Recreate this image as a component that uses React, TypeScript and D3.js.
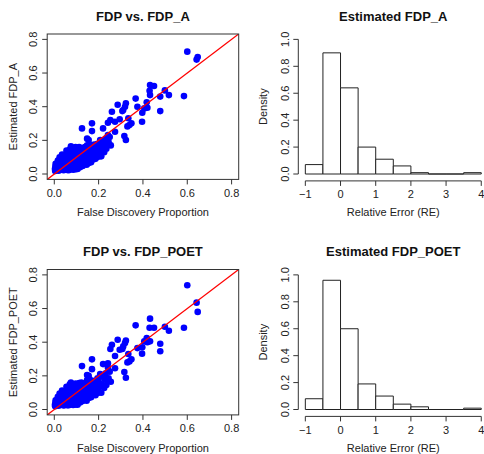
import React from "react";
import * as d3 from "d3";

// ---------- data ----------
const trueFDP = [
  0.600, 0.642, 0.647, 0.585, 0.517, 0.499, 0.478, 0.478, 0.432, 0.450,
  0.430, 0.432, 0.417, 0.420, 0.406, 0.397, 0.396, 0.367, 0.375, 0.348,
  0.339, 0.330, 0.334, 0.323, 0.319, 0.311, 0.286, 0.307, 0.295, 0.274,
  0.316, 0.323, 0.274, 0.125, 0.170, 0.170, 0.220, 0.242, 0.253, 0.260,
  0.242, 0.238, 0.207, 0.193, 0.155, 0.199, 0.191, 0.233, 0.176, 0.161,
  0.148,
  0.003, 0.005, 0.008, 0.010, 0.012, 0.015, 0.018, 0.020, 0.004, 0.014,
  0.022, 0.025, 0.027, 0.030, 0.032, 0.034, 0.036, 0.038, 0.040, 0.042,
  0.044, 0.046, 0.048, 0.050, 0.052, 0.054, 0.056, 0.058, 0.060, 0.062,
  0.064, 0.066, 0.068, 0.070, 0.072, 0.074, 0.076, 0.078, 0.080, 0.082,
  0.084, 0.086, 0.088, 0.090, 0.092, 0.094, 0.096, 0.098, 0.100, 0.102,
  0.104, 0.106, 0.108, 0.110, 0.112, 0.114, 0.116, 0.118, 0.120, 0.122,
  0.124, 0.126, 0.128, 0.130, 0.132, 0.134, 0.136, 0.138, 0.140, 0.142,
  0.144, 0.146, 0.148, 0.150, 0.152, 0.154, 0.156, 0.158, 0.160, 0.162,
  0.164, 0.166, 0.168, 0.170, 0.172, 0.175, 0.178, 0.180, 0.183, 0.186,
  0.188, 0.190, 0.195, 0.198, 0.202, 0.205, 0.210, 0.212, 0.215, 0.220,
  0.225, 0.228, 0.232, 0.235, 0.245, 0.250, 0.255, 0.006, 0.016, 0.024,
  0.028, 0.035, 0.045, 0.055, 0.065, 0.075, 0.085, 0.095, 0.105,
];

const estFDP_A = [
  0.727, 0.680, 0.695, 0.463, 0.469, 0.497, 0.460, 0.374, 0.529, 0.523,
  0.495, 0.469, 0.426, 0.394, 0.390, 0.364, 0.311, 0.448, 0.400, 0.301,
  0.291, 0.283, 0.331, 0.420, 0.400, 0.380, 0.412, 0.374, 0.325, 0.311,
  0.226, 0.202, 0.251, 0.271, 0.301, 0.255, 0.271, 0.305, 0.321, 0.370,
  0.232, 0.172, 0.202, 0.123, 0.202, 0.103, 0.127, 0.182, 0.153, 0.160,
  0.210,
  0.030, 0.045, 0.022, 0.038, 0.055, 0.028, 0.048, 0.020, 0.018, 0.065,
  0.035, 0.075, 0.050, 0.025, 0.090, 0.060, 0.040, 0.105, 0.072, 0.022,
  0.052, 0.085, 0.030, 0.115, 0.065, 0.045, 0.095, 0.024, 0.078, 0.125,
  0.055, 0.035, 0.100, 0.145, 0.070, 0.028, 0.088, 0.120, 0.050, 0.155,
  0.105, 0.075, 0.038, 0.135, 0.092, 0.060, 0.160, 0.115, 0.030, 0.082,
  0.145, 0.055, 0.125, 0.100, 0.160, 0.070, 0.040, 0.135, 0.090, 0.155,
  0.065, 0.110, 0.048, 0.140, 0.085, 0.120, 0.060, 0.160, 0.100, 0.075,
  0.130, 0.055, 0.170, 0.110, 0.088, 0.145, 0.065, 0.125, 0.175, 0.095,
  0.150, 0.070, 0.120, 0.160, 0.085, 0.140, 0.105, 0.175, 0.125, 0.090,
  0.160, 0.145, 0.180, 0.118, 0.165, 0.140, 0.190, 0.105, 0.155, 0.200,
  0.130, 0.175, 0.210, 0.150, 0.190, 0.220, 0.170, 0.060, 0.080, 0.100,
  0.030, 0.115, 0.025, 0.140, 0.022, 0.165, 0.025, 0.028, 0.030,
];

const estFDP_POET = [
  0.738, 0.635, 0.580, 0.486, 0.468, 0.492, 0.391, 0.346, 0.540, 0.486,
  0.486, 0.405, 0.425, 0.400, 0.405, 0.370, 0.332, 0.500, 0.365, 0.298,
  0.286, 0.280, 0.330, 0.410, 0.395, 0.375, 0.415, 0.360, 0.355, 0.318,
  0.223, 0.189, 0.245, 0.258, 0.298, 0.240, 0.270, 0.275, 0.360, 0.385,
  0.250, 0.180, 0.210, 0.130, 0.200, 0.100, 0.120, 0.185, 0.150, 0.165,
  0.205,
  0.028, 0.040, 0.025, 0.035, 0.050, 0.030, 0.045, 0.022, 0.020, 0.060,
  0.038, 0.070, 0.052, 0.028, 0.085, 0.058, 0.042, 0.100, 0.075, 0.024,
  0.050, 0.082, 0.032, 0.110, 0.068, 0.043, 0.098, 0.026, 0.075, 0.120,
  0.058, 0.033, 0.105, 0.150, 0.068, 0.030, 0.085, 0.125, 0.052, 0.150,
  0.100, 0.078, 0.035, 0.140, 0.090, 0.063, 0.155, 0.118, 0.032, 0.080,
  0.148, 0.052, 0.122, 0.105, 0.158, 0.072, 0.042, 0.130, 0.088, 0.160,
  0.068, 0.108, 0.050, 0.142, 0.082, 0.125, 0.058, 0.155, 0.098, 0.078,
  0.135, 0.052, 0.175, 0.112, 0.085, 0.140, 0.068, 0.128, 0.180, 0.092,
  0.148, 0.073, 0.118, 0.165, 0.088, 0.135, 0.108, 0.170, 0.128, 0.085,
  0.165, 0.140, 0.185, 0.120, 0.160, 0.145, 0.195, 0.100, 0.150, 0.205,
  0.128, 0.180, 0.215, 0.145, 0.185, 0.225, 0.165, 0.055, 0.075, 0.095,
  0.032, 0.112, 0.027, 0.135, 0.025, 0.160, 0.027, 0.030, 0.028,
];

const binEdges = [-1, -0.5, 0, 0.5, 1, 1.5, 2, 2.5, 3, 3.5, 4];
const densityA = [0.07, 0.90, 0.64, 0.20, 0.11, 0.06, 0.01, 0, 0, 0.01];
const densityPOET = [0.08, 0.96, 0.60, 0.19, 0.10, 0.04, 0.02, 0, 0, 0.01];

const scatterTicks = [0, 0.2, 0.4, 0.6, 0.8];
const histXTicks = [-1, 0, 1, 2, 3, 4];
const histYTicks = [0, 0.2, 0.4, 0.6, 0.8, 1.0];

const scatterTitles = ["FDP vs. FDP_A", "FDP vs. FDP_POET"];
const scatterYLabels = ["Estimated FDP_A", "Estimated FDP_POET"];
const histTitles = ["Estimated FDP_A", "Estimated FDP_POET"];
const scatterXLabel = "False Discovery Proportion";
const histXLabel = "Relative Error (RE)";
const histYLabel = "Density";

// ---------- layout ----------
const FONT = "'Liberation Sans', Arial, Helvetica, sans-serif";
const ROW_OFFSETS = [0, 235.5];
const TOP = 34;
const BOTTOM = 179.4;
const SC_L = 47.2, SC_R = 238.7;
const H_L = 298.3, H_R = 488.3;
const TICK = 5;

const fmt1 = (v: number) => v.toFixed(1);

function Scatter({ row }: { row: number }) {
  const oy = ROW_OFFSETS[row];
  const ys = row === 0 ? estFDP_A : estFDP_POET;
  const x = d3.scaleLinear().domain([-0.032, 0.832]).range([SC_L, SC_R]);
  const y = d3.scaleLinear().domain([-0.032, 0.832]).range([BOTTOM + oy, TOP + oy]);
  const clipId = `clip-sc-${row}`;
  const cx = (SC_L + SC_R) / 2;
  const cy = (TOP + BOTTOM) / 2 + oy;
  const line = d3.line<number>().x((d) => x(d)).y((d) => y(d));
  return (
    <g>
      <defs>
        <clipPath id={clipId}>
          <rect x={SC_L} y={TOP + oy} width={SC_R - SC_L} height={BOTTOM - TOP} />
        </clipPath>
      </defs>
      {trueFDP.map((v, i) => (
        <circle key={i} cx={x(v)} cy={y(ys[i])} r={3.3} fill="#0000ff" />
      ))}
      <path d={line([-0.032, 0.832]) || ""} stroke="#ff0000" strokeWidth={1.3} fill="none" clipPath={`url(#${clipId})`} />
      <rect x={SC_L} y={TOP + oy} width={SC_R - SC_L} height={BOTTOM - TOP} fill="none" stroke="#333" strokeWidth={1} />
      {scatterTicks.map((t) => (
        <g key={"x" + t}>
          <line x1={x(t)} x2={x(t)} y1={BOTTOM + oy} y2={BOTTOM + oy + TICK} stroke="#333" />
          <text x={x(t)} y={196.7 + oy} textAnchor="middle" fontSize={11} fontFamily={FONT} fill="#222">{fmt1(t)}</text>
        </g>
      ))}
      {scatterTicks.map((t) => (
        <g key={"y" + t}>
          <line x1={SC_L} x2={SC_L - TICK} y1={y(t)} y2={y(t)} stroke="#333" />
          <text transform={`translate(${37.3},${y(t)}) rotate(-90)`} textAnchor="middle" fontSize={11} fontFamily={FONT} fill="#222">{fmt1(t)}</text>
        </g>
      ))}
      <text x={cx} y={20.5 + oy} textAnchor="middle" fontSize={13} fontWeight="bold" fontFamily={FONT} fill="#111">{scatterTitles[row]}</text>
      <text x={cx} y={216 + oy} textAnchor="middle" fontSize={11} fontFamily={FONT} fill="#222">{scatterXLabel}</text>
      <text transform={`translate(${17.3},${cy}) rotate(-90)`} textAnchor="middle" fontSize={11} fontFamily={FONT} fill="#222">{scatterYLabels[row]}</text>
    </g>
  );
}

function Hist({ row }: { row: number }) {
  const oy = ROW_OFFSETS[row];
  const dens = row === 0 ? densityA : densityPOET;
  const x = d3.scaleLinear().domain([-1.2, 4.2]).range([H_L, H_R]);
  const y = d3.scaleLinear().domain([-0.04, 1.04]).range([BOTTOM + oy, TOP + oy]);
  const cy = (TOP + BOTTOM) / 2 + oy;
  const axisCx = (x(-1) + x(4)) / 2;
  return (
    <g>
      {dens.map((d, i) => {
        const x0 = x(binEdges[i]);
        const x1 = x(binEdges[i + 1]);
        const y0 = y(0);
        const y1 = y(d);
        const p = d3.path();
        p.moveTo(x0, y0);
        p.lineTo(x0, y1);
        p.lineTo(x1, y1);
        p.lineTo(x1, y0);
        p.closePath();
        return <path key={i} d={p.toString()} fill="#fff" stroke="#222" strokeWidth={1} />;
      })}
      <line x1={x(histXTicks[0])} x2={x(histXTicks[histXTicks.length - 1])} y1={BOTTOM + oy + 1.5} y2={BOTTOM + oy + 1.5} stroke="#333" />
      {histXTicks.map((t) => (
        <g key={"x" + t}>
          <line x1={x(t)} x2={x(t)} y1={BOTTOM + oy + 1.5} y2={BOTTOM + oy + 1.5 + TICK} stroke="#333" />
          <text x={x(t)} y={198.3 + oy} textAnchor="middle" fontSize={11} fontFamily={FONT} fill="#222">{t < 0 ? "\u2212" + Math.abs(t) : String(t)}</text>
        </g>
      ))}
      <line x1={H_L} x2={H_L} y1={y(histYTicks[0])} y2={y(histYTicks[histYTicks.length - 1])} stroke="#333" />
      {histYTicks.map((t) => (
        <g key={"y" + t}>
          <line x1={H_L} x2={H_L - TICK} y1={y(t)} y2={y(t)} stroke="#333" />
          <text transform={`translate(${288.7},${y(t)}) rotate(-90)`} textAnchor="middle" fontSize={11} fontFamily={FONT} fill="#222">{fmt1(t)}</text>
        </g>
      ))}
      <text x={axisCx} y={20.5 + oy} textAnchor="middle" fontSize={13} fontWeight="bold" fontFamily={FONT} fill="#111">{histTitles[row]}</text>
      <text x={axisCx} y={216 + oy} textAnchor="middle" fontSize={11} fontFamily={FONT} fill="#222">{histXLabel}</text>
      <text transform={`translate(${266.7},${cy}) rotate(-90)`} textAnchor="middle" fontSize={11} fontFamily={FONT} fill="#222">{histYLabel}</text>
    </g>
  );
}

export default function App() {
  return (
    <svg width={484} height={454} style={{ position: "absolute", left: 0, top: 0, background: "#fff" }}>
      <rect x={0} y={0} width={484} height={454} fill="#fff" />
      <Scatter row={0} />
      <Hist row={0} />
      <Scatter row={1} />
      <Hist row={1} />
    </svg>
  );
}
